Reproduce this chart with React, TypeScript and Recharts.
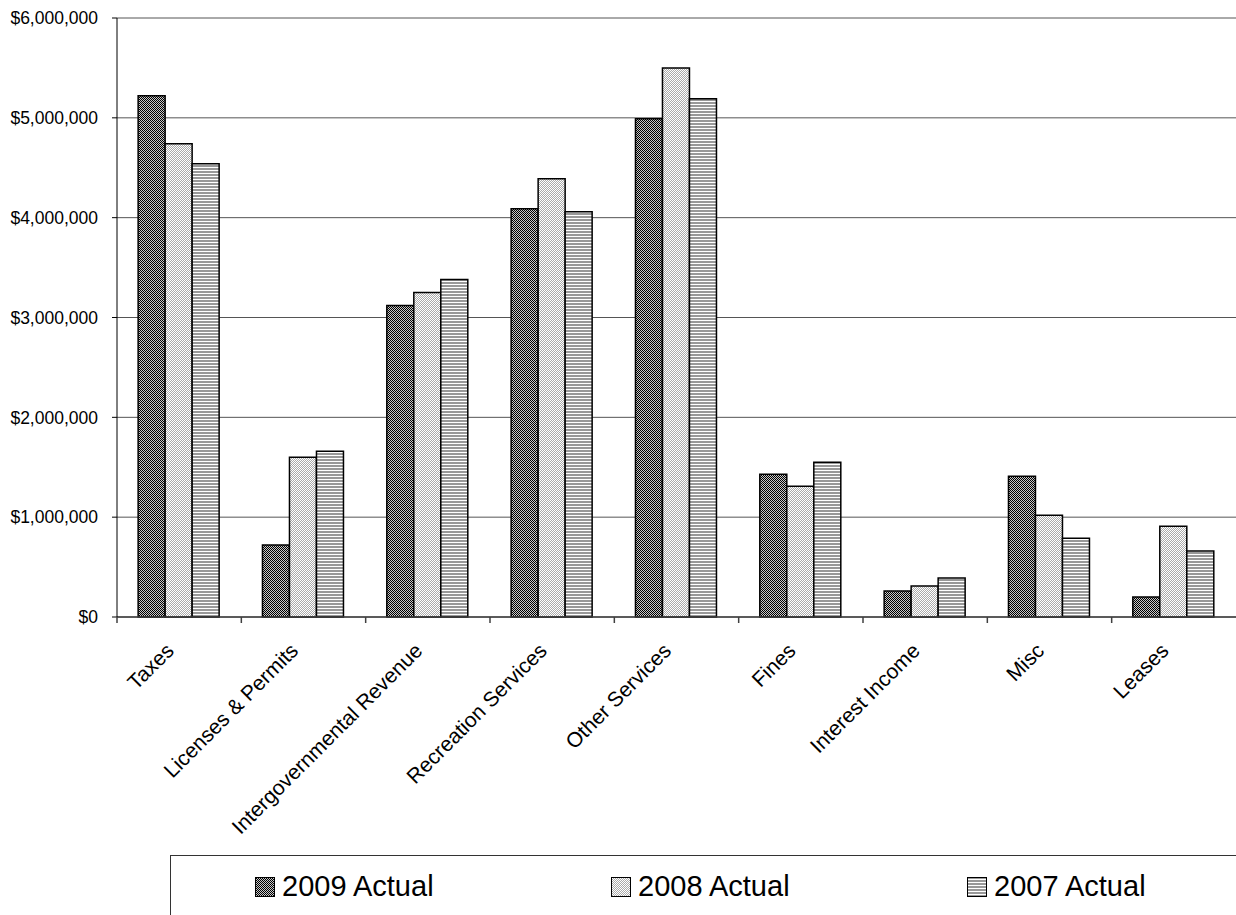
import React from "react";
import { BarChart, Bar, XAxis, YAxis, CartesianGrid, Legend } from "recharts";

const categories = [
  "Taxes",
  "Licenses & Permits",
  "Intergovernmental Revenue",
  "Recreation Services",
  "Other Services",
  "Fines",
  "Interest Income",
  "Misc",
  "Leases",
];

const actual2009 = [5220000, 720000, 3120000, 4090000, 4990000, 1430000, 260000, 1410000, 200000];
const actual2008 = [4740000, 1600000, 3250000, 4390000, 5500000, 1310000, 310000, 1020000, 910000];
const actual2007 = [4540000, 1660000, 3380000, 4060000, 5190000, 1550000, 390000, 790000, 660000];

const yTicks = [0, 1000000, 2000000, 3000000, 4000000, 5000000, 6000000];

const series = [
  { key: "a2009", name: "2009 Actual", pattern: "p2009" },
  { key: "a2008", name: "2008 Actual", pattern: "p2008" },
  { key: "a2007", name: "2007 Actual", pattern: "p2007" },
];

const data = categories.map((name, i) => ({
  name,
  a2009: actual2009[i],
  a2008: actual2008[i],
  a2007: actual2007[i],
}));

const FONT = "Arial, 'Liberation Sans', sans-serif";
const W = 1236;
const H = 915;
const AXIS_W = 117;
const BAND = (W - AXIS_W) / categories.length;

function XTick(props: any) {
  const { x, y, payload } = props;
  const tx = x - 4;
  const ty = y + 35;
  return (
    <g>
      <line x1={x - BAND / 2} x2={x - BAND / 2} y1={y} y2={y + 6} stroke="#404040" strokeWidth={1.5} />
      <text
        x={tx}
        y={ty}
        transform={`rotate(-45, ${tx}, ${ty})`}
        textAnchor="end"
        fontSize={21}
        fontFamily={FONT}
        fill="#000"
      >
        {payload.value}
      </text>
    </g>
  );
}

function LegendBox() {
  return (
    <div
      style={{
        position: "relative",
        width: W - 170,
        height: 60,
        borderTop: "1.5px solid #333",
        borderLeft: "1.5px solid #333",
        boxSizing: "border-box",
        fontFamily: FONT,
      }}
    >
      {series.map((s, i) => (
        <div
          key={s.key}
          style={{
            position: "absolute",
            left: 84 + i * 356,
            top: 16,
            display: "flex",
            alignItems: "center",
            gap: 7,
          }}
        >
          <svg width={20} height={20} style={{ display: "block" }}>
            <rect x={0.5} y={0.5} width={19} height={19} fill={`url(#${s.pattern})`} stroke="#000" />
          </svg>
          <span style={{ fontSize: 29, lineHeight: 1, color: "#000" }}>{s.name}</span>
        </div>
      ))}
    </div>
  );
}

export default function App() {
  return (
    <div style={{ position: "absolute", left: 0, top: 0, width: W, height: H, background: "#fff" }}>
      <svg width={0} height={0} style={{ position: "absolute" }}>
        <defs>
          <pattern id="p2009" patternUnits="userSpaceOnUse" width={2} height={2}>
            <rect width={2} height={2} fill="#c8c8c8" />
            <rect x={0} y={0} width={1} height={1} fill="#000" />
            <rect x={1} y={1} width={1} height={1} fill="#000" />
          </pattern>
          <pattern id="p2008" patternUnits="userSpaceOnUse" width={2} height={2}>
            <rect width={2} height={2} fill="#fff" />
            <rect x={1} y={0} width={1} height={1} fill="#aaa" />
            <rect x={0} y={1} width={1} height={1} fill="#aaa" />
          </pattern>
          <pattern id="p2007" patternUnits="userSpaceOnUse" width={4} height={3}>
            <rect width={4} height={3} fill="#fff" />
            <rect x={0} y={0} width={4} height={2} fill="#999" />
          </pattern>
        </defs>
      </svg>
      <BarChart
        width={W}
        height={H}
        data={data}
        margin={{ top: 18, right: 0, left: 0, bottom: 0 }}
        barCategoryGap="17%"
        barGap={0}
      >
        <CartesianGrid horizontal vertical={false} stroke="#555" strokeWidth={1} />
        <XAxis
          dataKey="name"
          height={298}
          interval={0}
          tickLine={false}
          tickSize={0}
          tickMargin={0}
          axisLine={{ stroke: "#404040", strokeWidth: 1.5 }}
          tick={<XTick />}
        />
        <YAxis
          width={AXIS_W}
          domain={[0, 6000000]}
          ticks={yTicks}
          interval={0}
          tickSize={5}
          tickMargin={14}
          axisLine={{ stroke: "#000" }}
          tickLine={{ stroke: "#000" }}
          tick={{ fill: "#000", fontSize: 17.5, fontFamily: FONT }}
          tickFormatter={(v: number) => `$${v.toLocaleString("en-US")}`}
        />
        <Legend
          layout="horizontal"
          verticalAlign="middle"
          align="center"
          wrapperStyle={{ top: 855, left: 170, width: W - 170, height: 60 }}
          content={() => <LegendBox />}
        />
        {series.map((s) => (
          <Bar
            key={s.key}
            dataKey={s.key}
            name={s.name}
            fill={`url(#${s.pattern})`}
            stroke="#000"
            strokeWidth={1.5}
            isAnimationActive={false}
          />
        ))}
      </BarChart>
    </div>
  );
}
